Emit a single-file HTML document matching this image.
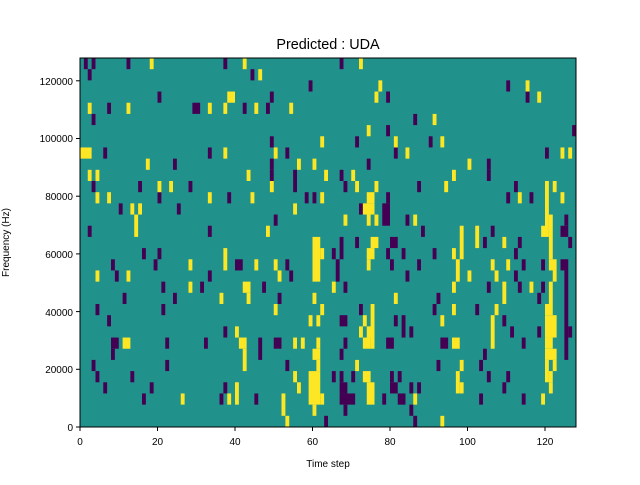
<!DOCTYPE html>
<html><head><meta charset="utf-8"><style>
body{margin:0;background:#fff;}
svg text{font-family:"Liberation Sans","DejaVu Sans",sans-serif;font-size:10px;fill:#000;}
</style></head><body>
<svg width="640" height="480" xmlns="http://www.w3.org/2000/svg">
<rect width="640" height="480" fill="#fff"/>
<text x="328" y="49" text-anchor="middle" style="font-size:14.4px">Predicted : UDA</text>
<svg x="80" y="58" width="496" height="369" viewBox="0 0 128 33" preserveAspectRatio="none">
<rect width="128" height="33" fill="#21918c"/>
<g fill="#440154">
<rect x="1" y="0" width="1" height="1"/><rect x="3" y="0" width="1" height="1"/><rect x="12" y="0" width="1" height="1"/><rect x="37" y="0" width="1" height="1"/><rect x="67" y="0" width="1" height="1"/>
<rect x="2" y="1" width="1" height="1"/><rect x="44" y="1" width="1" height="1"/>
<rect x="59" y="2" width="1" height="1"/><rect x="110" y="2" width="1" height="1"/>
<rect x="20" y="3" width="1" height="1"/><rect x="49" y="3" width="1" height="1"/><rect x="79" y="3" width="1" height="1"/><rect x="115" y="3" width="1" height="1"/>
<rect x="7" y="4" width="1" height="1"/><rect x="29" y="4" width="2" height="1"/><rect x="42" y="4" width="1" height="1"/><rect x="48" y="4" width="1" height="1"/>
<rect x="3" y="5" width="1" height="1"/><rect x="86" y="5" width="1" height="1"/>
<rect x="79" y="6" width="1" height="1"/><rect x="127" y="6" width="1" height="1"/>
<rect x="49" y="7" width="1" height="1"/><rect x="71" y="7" width="1" height="1"/><rect x="90" y="7" width="1" height="1"/>
<rect x="6" y="8" width="1" height="1"/><rect x="33" y="8" width="1" height="1"/><rect x="53" y="8" width="1" height="1"/><rect x="81" y="8" width="1" height="1"/><rect x="120" y="8" width="1" height="1"/>
<rect x="24" y="9" width="1" height="1"/><rect x="49" y="9" width="1" height="1"/><rect x="74" y="9" width="1" height="1"/><rect x="105" y="9" width="1" height="1"/>
<rect x="49" y="10" width="1" height="1"/><rect x="55" y="10" width="1" height="1"/><rect x="67" y="10" width="1" height="1"/><rect x="105" y="10" width="1" height="1"/>
<rect x="3" y="11" width="1" height="1"/><rect x="15" y="11" width="1" height="1"/><rect x="28" y="11" width="1" height="1"/><rect x="55" y="11" width="1" height="1"/><rect x="68" y="11" width="1" height="1"/><rect x="87" y="11" width="1" height="1"/><rect x="112" y="11" width="1" height="1"/>
<rect x="20" y="12" width="1" height="1"/><rect x="38" y="12" width="1" height="1"/><rect x="58" y="12" width="1" height="1"/><rect x="60" y="12" width="1" height="1"/><rect x="79" y="12" width="1" height="1"/><rect x="110" y="12" width="1" height="1"/><rect x="116" y="12" width="1" height="1"/>
<rect x="10" y="13" width="1" height="1"/><rect x="25" y="13" width="1" height="1"/><rect x="72" y="13" width="1" height="1"/><rect x="78" y="13" width="2" height="2"/>
<rect x="50" y="14" width="1" height="1"/><rect x="84" y="14" width="1" height="1"/><rect x="125" y="14" width="1" height="1"/>
<rect x="2" y="15" width="1" height="1"/><rect x="33" y="15" width="1" height="1"/><rect x="88" y="15" width="1" height="1"/><rect x="106" y="15" width="1" height="1"/><rect x="124" y="15" width="2" height="1"/>
<rect x="67" y="16" width="1" height="2"/><rect x="71" y="16" width="1" height="1"/><rect x="80" y="16" width="2" height="1"/><rect x="104" y="16" width="1" height="1"/><rect x="113" y="16" width="1" height="1"/><rect x="126" y="16" width="1" height="1"/>
<rect x="16" y="17" width="1" height="1"/><rect x="20" y="17" width="1" height="1"/><rect x="65" y="17" width="1" height="1"/><rect x="79" y="17" width="1" height="1"/><rect x="83" y="17" width="1" height="1"/><rect x="91" y="17" width="1" height="1"/><rect x="112" y="17" width="1" height="1"/>
<rect x="8" y="18" width="1" height="1"/><rect x="19" y="18" width="1" height="1"/><rect x="40" y="18" width="2" height="1"/><rect x="53" y="18" width="1" height="1"/><rect x="66" y="18" width="1" height="2"/><rect x="80" y="18" width="1" height="1"/><rect x="87" y="18" width="1" height="1"/><rect x="114" y="18" width="1" height="1"/><rect x="119" y="18" width="1" height="1"/><rect x="124" y="18" width="2" height="1"/>
<rect x="9" y="19" width="1" height="1"/><rect x="33" y="19" width="1" height="1"/><rect x="54" y="19" width="1" height="1"/><rect x="84" y="19" width="1" height="1"/><rect x="112" y="19" width="1" height="1"/><rect x="125" y="19" width="1" height="8"/>
<rect x="21" y="20" width="1" height="1"/><rect x="31" y="20" width="1" height="1"/><rect x="47" y="20" width="1" height="1"/><rect x="68" y="20" width="1" height="1"/><rect x="105" y="20" width="1" height="1"/><rect x="113" y="20" width="1" height="1"/><rect x="119" y="20" width="1" height="1"/>
<rect x="11" y="21" width="1" height="1"/><rect x="24" y="21" width="1" height="1"/><rect x="51" y="21" width="1" height="1"/><rect x="92" y="21" width="1" height="1"/><rect x="118" y="21" width="1" height="1"/>
<rect x="4" y="22" width="1" height="1"/><rect x="21" y="22" width="1" height="1"/><rect x="72" y="22" width="1" height="1"/><rect x="91" y="22" width="1" height="1"/><rect x="102" y="22" width="1" height="1"/>
<rect x="7" y="23" width="1" height="1"/><rect x="67" y="23" width="2" height="1"/><rect x="81" y="23" width="1" height="1"/><rect x="83" y="23" width="1" height="2"/><rect x="109" y="23" width="1" height="1"/>
<rect x="37" y="24" width="1" height="1"/><rect x="85" y="24" width="1" height="1"/><rect x="111" y="24" width="1" height="1"/><rect x="118" y="24" width="1" height="1"/><rect x="126" y="24" width="1" height="1"/>
<rect x="8" y="25" width="2" height="1"/><rect x="22" y="25" width="1" height="1"/><rect x="32" y="25" width="1" height="1"/><rect x="46" y="25" width="1" height="2"/><rect x="50" y="25" width="2" height="1"/><rect x="68" y="25" width="1" height="1"/><rect x="79" y="25" width="2" height="1"/><rect x="93" y="25" width="2" height="1"/><rect x="114" y="25" width="1" height="1"/>
<rect x="8" y="26" width="1" height="1"/><rect x="67" y="26" width="1" height="1"/><rect x="104" y="26" width="1" height="1"/>
<rect x="3" y="27" width="1" height="1"/><rect x="22" y="27" width="1" height="1"/><rect x="53" y="27" width="1" height="1"/><rect x="92" y="27" width="1" height="1"/><rect x="103" y="27" width="1" height="1"/>
<rect x="4" y="28" width="1" height="1"/><rect x="13" y="28" width="1" height="1"/><rect x="65" y="28" width="1" height="1"/><rect x="67" y="28" width="1" height="1"/><rect x="70" y="28" width="1" height="1"/><rect x="80" y="28" width="1" height="1"/><rect x="82" y="28" width="1" height="1"/><rect x="105" y="28" width="1" height="1"/><rect x="110" y="28" width="1" height="1"/>
<rect x="6" y="29" width="1" height="1"/><rect x="18" y="29" width="1" height="1"/><rect x="37" y="29" width="1" height="1"/><rect x="67" y="29" width="2" height="1"/><rect x="80" y="29" width="2" height="1"/><rect x="85" y="29" width="1" height="1"/><rect x="87" y="29" width="1" height="1"/><rect x="109" y="29" width="1" height="1"/>
<rect x="16" y="30" width="1" height="1"/><rect x="36" y="30" width="1" height="1"/><rect x="45" y="30" width="1" height="1"/><rect x="67" y="30" width="4" height="1"/><rect x="78" y="30" width="1" height="1"/><rect x="82" y="30" width="2" height="1"/><rect x="103" y="30" width="1" height="1"/><rect x="114" y="30" width="1" height="1"/>
<rect x="68" y="31" width="1" height="1"/><rect x="85" y="31" width="1" height="1"/>
<rect x="63" y="32" width="1" height="1"/><rect x="86" y="32" width="1" height="1"/>
</g>
<g fill="#fde725">
<rect x="18" y="0" width="1" height="1"/><rect x="42" y="0" width="1" height="1"/><rect x="72" y="0" width="1" height="1"/>
<rect x="46" y="1" width="1" height="1"/>
<rect x="77" y="2" width="1" height="1"/><rect x="115" y="2" width="1" height="1"/>
<rect x="38" y="3" width="2" height="1"/><rect x="76" y="3" width="1" height="1"/><rect x="118" y="3" width="1" height="1"/>
<rect x="2" y="4" width="1" height="1"/><rect x="12" y="4" width="1" height="1"/><rect x="33" y="4" width="1" height="1"/><rect x="37" y="4" width="1" height="1"/><rect x="45" y="4" width="1" height="1"/><rect x="54" y="4" width="1" height="1"/>
<rect x="91" y="5" width="1" height="1"/>
<rect x="74" y="6" width="1" height="1"/>
<rect x="62" y="7" width="1" height="1"/><rect x="81" y="7" width="1" height="1"/><rect x="93" y="7" width="1" height="1"/>
<rect x="0" y="8" width="3" height="1"/><rect x="37" y="8" width="1" height="1"/><rect x="50" y="8" width="1" height="1"/><rect x="84" y="8" width="1" height="1"/><rect x="124" y="8" width="1" height="1"/><rect x="126" y="8" width="1" height="1"/>
<rect x="17" y="9" width="1" height="1"/><rect x="56" y="9" width="1" height="1"/><rect x="60" y="9" width="1" height="1"/><rect x="100" y="9" width="1" height="1"/>
<rect x="2" y="10" width="1" height="1"/><rect x="4" y="10" width="1" height="1"/><rect x="43" y="10" width="1" height="1"/><rect x="63" y="10" width="1" height="1"/><rect x="70" y="10" width="1" height="1"/><rect x="96" y="10" width="1" height="1"/>
<rect x="20" y="11" width="1" height="1"/><rect x="23" y="11" width="1" height="1"/><rect x="49" y="11" width="1" height="1"/><rect x="71" y="11" width="1" height="1"/><rect x="76" y="11" width="1" height="1"/><rect x="94" y="11" width="1" height="1"/><rect x="120" y="11" width="1" height="5"/><rect x="122" y="11" width="1" height="1"/>
<rect x="4" y="12" width="1" height="1"/><rect x="7" y="12" width="1" height="1"/><rect x="33" y="12" width="1" height="1"/><rect x="44" y="12" width="1" height="1"/><rect x="62" y="12" width="1" height="1"/><rect x="74" y="12" width="2" height="1"/><rect x="113" y="12" width="1" height="1"/><rect x="124" y="12" width="1" height="1"/>
<rect x="13" y="13" width="1" height="1"/><rect x="15" y="13" width="1" height="1"/><rect x="55" y="13" width="1" height="1"/><rect x="73" y="13" width="3" height="1"/>
<rect x="14" y="14" width="1" height="2"/><rect x="68" y="14" width="1" height="1"/><rect x="74" y="14" width="1" height="1"/><rect x="76" y="14" width="1" height="1"/><rect x="86" y="14" width="1" height="1"/><rect x="121" y="14" width="1" height="4"/>
<rect x="48" y="15" width="1" height="1"/><rect x="98" y="15" width="1" height="3"/><rect x="102" y="15" width="1" height="2"/><rect x="119" y="15" width="1" height="1"/>
<rect x="60" y="16" width="2" height="4"/><rect x="75" y="16" width="2" height="1"/><rect x="109" y="16" width="1" height="1"/>
<rect x="37" y="17" width="1" height="2"/><rect x="62" y="17" width="1" height="1"/><rect x="74" y="17" width="2" height="1"/><rect x="96" y="17" width="1" height="1"/>
<rect x="28" y="18" width="1" height="1"/><rect x="45" y="18" width="1" height="1"/><rect x="50" y="18" width="1" height="1"/><rect x="74" y="18" width="1" height="1"/><rect x="97" y="18" width="1" height="2"/><rect x="106" y="18" width="1" height="1"/><rect x="110" y="18" width="1" height="1"/><rect x="121" y="18" width="2" height="1"/>
<rect x="4" y="19" width="1" height="1"/><rect x="12" y="19" width="1" height="1"/><rect x="51" y="19" width="1" height="1"/><rect x="100" y="19" width="1" height="1"/><rect x="107" y="19" width="1" height="1"/><rect x="122" y="19" width="1" height="1"/>
<rect x="28" y="20" width="1" height="1"/><rect x="42" y="20" width="2" height="1"/><rect x="65" y="20" width="1" height="1"/><rect x="96" y="20" width="1" height="1"/><rect x="109" y="20" width="1" height="2"/><rect x="116" y="20" width="1" height="1"/><rect x="121" y="20" width="1" height="2"/>
<rect x="36" y="21" width="1" height="1"/><rect x="43" y="21" width="1" height="1"/><rect x="60" y="21" width="1" height="1"/><rect x="81" y="21" width="1" height="1"/>
<rect x="50" y="22" width="1" height="1"/><rect x="62" y="22" width="1" height="1"/><rect x="75" y="22" width="1" height="4"/><rect x="96" y="22" width="1" height="1"/><rect x="107" y="22" width="1" height="1"/><rect x="120" y="22" width="2" height="1"/>
<rect x="59" y="23" width="1" height="1"/><rect x="61" y="23" width="1" height="1"/><rect x="73" y="23" width="1" height="1"/><rect x="93" y="23" width="1" height="1"/><rect x="106" y="23" width="1" height="3"/><rect x="120" y="23" width="3" height="2"/>
<rect x="40" y="24" width="1" height="1"/><rect x="72" y="24" width="1" height="1"/><rect x="74" y="24" width="2" height="1"/>
<rect x="11" y="25" width="2" height="1"/><rect x="41" y="25" width="2" height="1"/><rect x="55" y="25" width="1" height="1"/><rect x="57" y="25" width="1" height="1"/><rect x="61" y="25" width="1" height="1"/><rect x="73" y="25" width="2" height="1"/><rect x="96" y="25" width="2" height="1"/><rect x="120" y="25" width="2" height="1"/>
<rect x="42" y="26" width="1" height="2"/><rect x="60" y="26" width="2" height="1"/><rect x="120" y="26" width="3" height="1"/>
<rect x="61" y="27" width="1" height="1"/><rect x="71" y="27" width="1" height="1"/><rect x="98" y="27" width="1" height="1"/><rect x="120" y="27" width="1" height="2"/><rect x="122" y="27" width="1" height="1"/>
<rect x="55" y="28" width="1" height="1"/><rect x="59" y="28" width="3" height="3"/><rect x="73" y="28" width="2" height="1"/><rect x="97" y="28" width="1" height="2"/><rect x="121" y="28" width="1" height="1"/>
<rect x="40" y="29" width="1" height="2"/><rect x="56" y="29" width="1" height="1"/><rect x="74" y="29" width="2" height="2"/><rect x="98" y="29" width="1" height="1"/><rect x="121" y="29" width="1" height="1"/>
<rect x="26" y="30" width="1" height="1"/><rect x="38" y="30" width="1" height="1"/><rect x="52" y="30" width="1" height="2"/><rect x="62" y="30" width="1" height="1"/><rect x="86" y="30" width="1" height="1"/><rect x="119" y="30" width="1" height="1"/>
<rect x="60" y="31" width="1" height="1"/>
<rect x="53" y="32" width="1" height="1"/><rect x="93" y="32" width="1" height="1"/>
</g>
</svg>
<rect x="80" y="58" width="496" height="369" fill="none" stroke="#000" stroke-width="1"/>
<g stroke="#000" stroke-width="1">
<line x1="80" y1="427" x2="80" y2="431"/><line x1="157.5" y1="427" x2="157.5" y2="431"/><line x1="235" y1="427" x2="235" y2="431"/><line x1="312.5" y1="427" x2="312.5" y2="431"/><line x1="390" y1="427" x2="390" y2="431"/><line x1="467.5" y1="427" x2="467.5" y2="431"/><line x1="545" y1="427" x2="545" y2="431"/>
<line x1="76" y1="427" x2="80" y2="427"/><line x1="76" y1="369.3" x2="80" y2="369.3"/><line x1="76" y1="311.6" x2="80" y2="311.6"/><line x1="76" y1="253.9" x2="80" y2="253.9"/><line x1="76" y1="196.2" x2="80" y2="196.2"/><line x1="76" y1="138.5" x2="80" y2="138.5"/><line x1="76" y1="80.8" x2="80" y2="80.8"/>
</g>
<g text-anchor="middle">
<text x="80" y="445">0</text><text x="157.5" y="445">20</text><text x="235" y="445">40</text><text x="312.5" y="445">60</text><text x="390" y="445">80</text><text x="467.5" y="445">100</text><text x="545" y="445">120</text>
</g>
<g text-anchor="end">
<text x="73" y="431">0</text><text x="73" y="373">20000</text><text x="73" y="316">40000</text><text x="73" y="258">60000</text><text x="73" y="200">80000</text><text x="73" y="142">100000</text><text x="73" y="85">120000</text>
</g>
<text x="328" y="467" text-anchor="middle">Time step</text>
<text transform="translate(9,242.5) rotate(-90)" text-anchor="middle">Frequency (Hz)</text>
</svg>
</body></html>
